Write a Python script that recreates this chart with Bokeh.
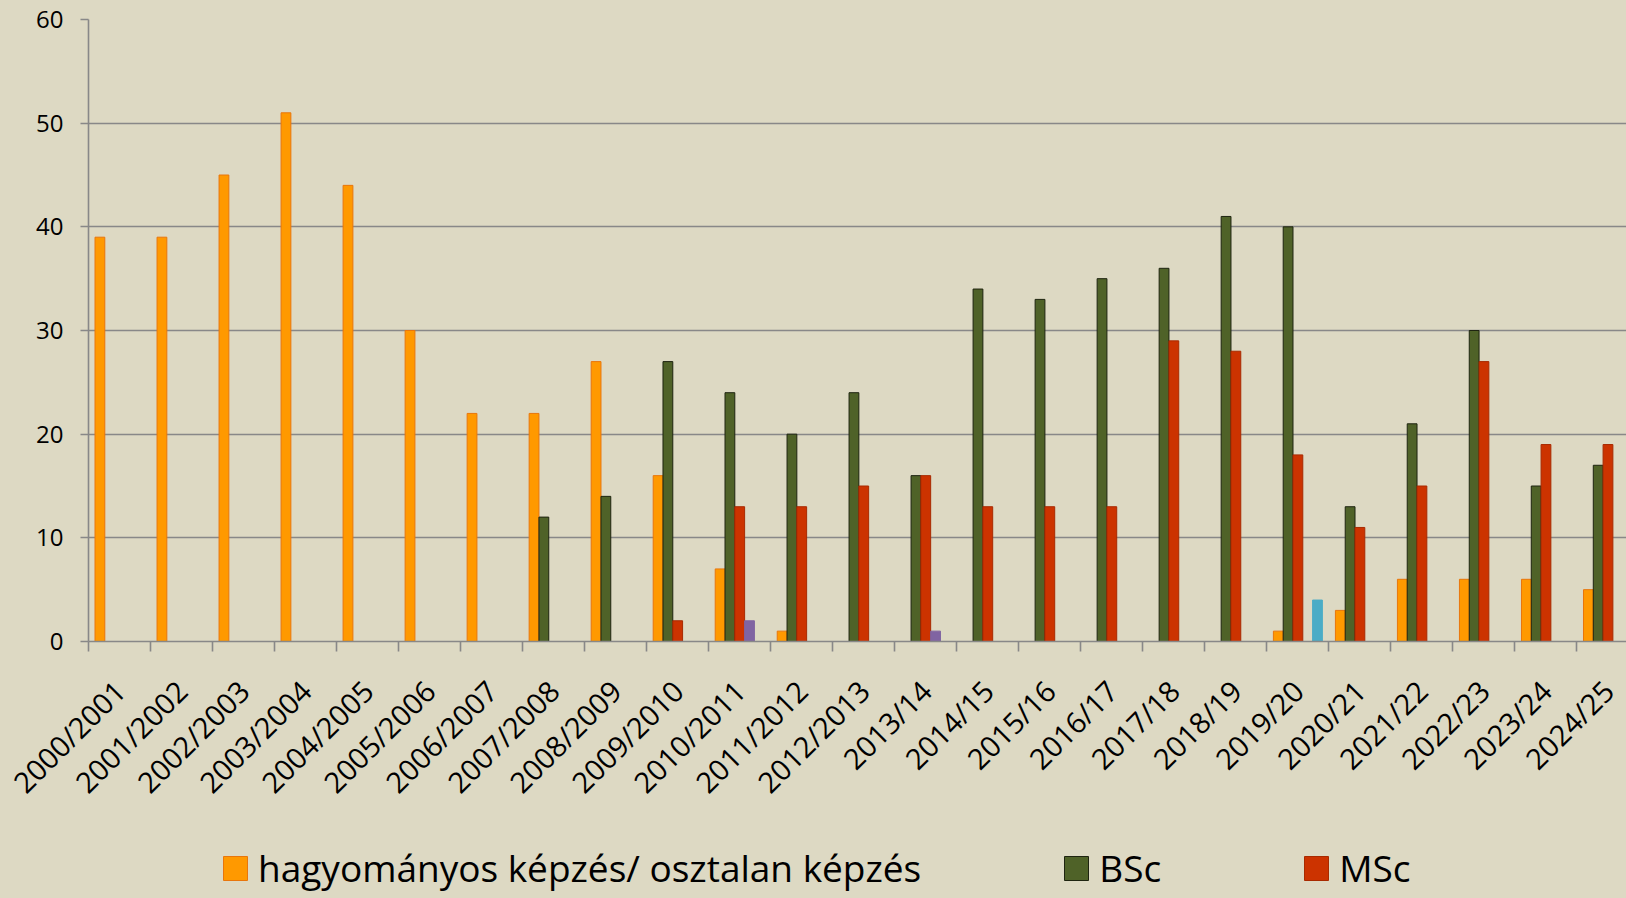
from bokeh.plotting import figure
from bokeh.layouts import column
from bokeh.models import Range1d, FixedTicker, ColumnDataSource, Legend, LegendItem
from bokeh.embed import file_html
from bokeh.resources import INLINE
import math

years = ["2000/2001", "2001/2002", "2002/2003", "2003/2004", "2004/2005",
         "2005/2006", "2006/2007", "2007/2008", "2008/2009", "2009/2010",
         "2010/2011", "2011/2012", "2012/2013", "2013/14", "2014/15",
         "2015/16", "2016/17", "2017/18", "2018/19", "2019/20",
         "2020/21", "2021/22", "2022/23", "2023/24", "2024/25"]

hagyomanyos = [39, 39, 45, 51, 44, 30, 22, 22, 27, 16, 7, 1,
               None, None, None, None, None, None, None, 1, 3, 6, 6, 6, 5]
bsc = [None, None, None, None, None, None, None, 12, 14, 27, 24, 20, 24,
       16, 34, 33, 35, 36, 41, 40, 13, 21, 30, 15, 17]
msc = [None, None, None, None, None, None, None, None, None, 2, 13, 13, 15,
       16, 13, 13, 13, 29, 28, 18, 11, 15, 27, 19, 19]
series4 = [None] * 10 + [2, None, None, 1] + [None] * 11
series5 = [None] * 19 + [4] + [None] * 5

names = ["hagyományos képzés/ osztalan képzés", "BSc", "MSc", None, None]
data = [hagyomanyos, bsc, msc, series4, series5]
fills = ["#FF9900", "#4F6228", "#CC3300", "#8064A2", "#4BACC6"]
lines = ["#E8760C", "#1E2410", "#A82A00", "#8064A2", "#4BACC6"]

FONT = "Open Sans"
BG = "#DDD9C3"
GRID = "#888888"
bar_w = 0.158
cat_px = 62.02
frame_w = 1538

p = figure(frame_width=frame_w, frame_height=622,
           x_range=Range1d(0, frame_w / cat_px), y_range=Range1d(0, 60),
           output_backend="svg", toolbar_location=None,
           min_border_left=88, min_border_right=0, min_border_top=19,
           min_border_bottom=165,
           background_fill_color=BG, border_fill_color=BG,
           outline_line_color=None)

renderers = []
for k, (vals, fc, lc) in enumerate(zip(data, fills, lines)):
    xs, tops = [], []
    for i, v in enumerate(vals):
        if v is not None and v > 0:
            xs.append(i + 0.5 + (k - 2) * bar_w)
            tops.append(v)
    src = ColumnDataSource(dict(x=xs, top=tops))
    r = p.vbar(x="x", top="top", width=bar_w, bottom=0, source=src,
               fill_color=fc, line_color=lc, line_width=1)
    renderers.append(r)

# grid
p.xgrid.visible = False
p.ygrid.ticker = FixedTicker(ticks=[10, 20, 30, 40, 50, 60])
p.ygrid.grid_line_color = GRID
p.ygrid.grid_line_width = 1.6

# y axis
ya = p.yaxis[0]
ya.ticker = FixedTicker(ticks=[0, 10, 20, 30, 40, 50, 60])
ya.axis_line_color = GRID
ya.axis_line_width = 1.6
ya.major_tick_line_color = GRID
ya.major_tick_line_width = 1.6
ya.major_tick_out = 8
ya.major_tick_in = 0
ya.minor_tick_line_color = None
ya.major_label_text_font = FONT
ya.major_label_text_font_size = "24px"
ya.major_label_text_color = "#000000"
ya.major_label_standoff = 17

# x axis
xa = p.xaxis[0]
xa.ticker = FixedTicker(ticks=[i + 0.5 for i in range(len(years))],
                        minor_ticks=list(range(len(years) + 1)))
xa.major_label_overrides = {i + 0.5: y for i, y in enumerate(years)}
xa.axis_line_color = GRID
xa.axis_line_width = 1.6
xa.major_tick_line_color = None
xa.major_tick_out = 0
xa.major_tick_in = 0
xa.minor_tick_line_color = GRID
xa.minor_tick_line_width = 1.6
xa.minor_tick_out = 10
xa.minor_tick_in = 0
xa.major_label_orientation = math.pi / 4
xa.major_label_text_font = FONT
xa.major_label_text_font_size = "29px"
xa.major_label_text_color = "#000000"
xa.major_label_standoff = 34

# legend in a strip below the chart (dummy bars lie far outside the canvas)
lg = figure(width=88 + frame_w, height=90, x_range=Range1d(0, 1), y_range=Range1d(0, 1),
            output_backend="svg", toolbar_location=None,
            x_axis_location=None, y_axis_location=None,
            min_border=0, background_fill_color=BG, border_fill_color=BG,
            outline_line_color=None)
lg.xgrid.visible = False
lg.ygrid.visible = False
legend_renderers = []
for k in range(3):
    r = lg.vbar(x=[0.5], top=[-99], bottom=-100, width=0.1, fill_color=fills[k],
                line_color=lines[k], line_width=1)
    legend_renderers.append(r)
items = [LegendItem(label=names[k], renderers=[legend_renderers[k]]) for k in range(3)]
legend = Legend(items=items, orientation="horizontal", location=(132, 14),
                spacing=140, glyph_width=30, glyph_height=30,
                label_standoff=8, label_text_font=FONT,
                label_text_font_size="37px", label_text_color="#000000",
                border_line_alpha=0, background_fill_alpha=0,
                padding=0, margin=0)
lg.add_layout(legend, "center")

layout = column(p, lg, spacing=0, styles={"background-color": BG})
open("out.html", "w").write(file_html(layout, INLINE))
